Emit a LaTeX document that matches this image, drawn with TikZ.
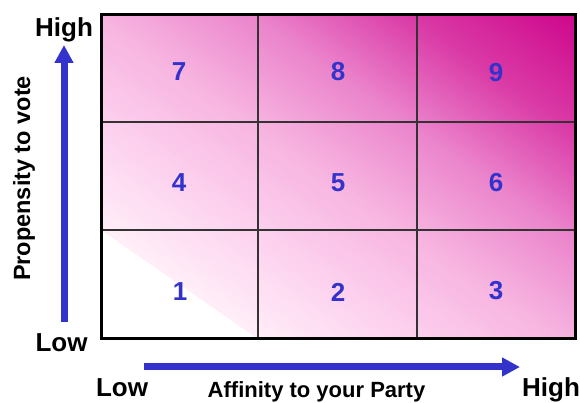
\documentclass[tikz,border=0pt]{standalone}
\usepackage{fontspec}
\setmainfont{Liberation Sans}
\usetikzlibrary{arrows.meta}
\definecolor{axblue}{HTML}{3333CC}
\definecolor{g0}{HTML}{FFEEF8}
\definecolor{ga}{HTML}{FDD2EF}
\definecolor{gb}{HTML}{F7B4E0}
\definecolor{gc}{HTML}{EB84CC}
\definecolor{gd}{HTML}{DA3AA6}
\definecolor{ge}{HTML}{CC0088}
\tikzset{
  num/.style={text=axblue, font=\fontsize{26}{26}\selectfont\bfseries, inner sep=0pt, anchor=center},
  axlabel/.style={font=\fontsize{26}{26}\selectfont\bfseries, inner sep=0pt, anchor=base},
  axtitle/.style={font=\fontsize{22}{22}\selectfont\bfseries, inner sep=0pt, anchor=base},
  axarrow/.style={draw=axblue, line width=7pt, -{Triangle[length=18pt,width=18pt]}},
  thin grid/.style={draw=black!80, line width=1.2pt},
  outer/.style={draw=black, line width=3pt}
}
\begin{document}
\begin{tikzpicture}[x=1pt,y=1pt]
\useasboundingbox (0,0) rectangle (580,403);
% gradient fill, drawn as thin bands across the gradient direction
\begin{scope}
  \clip (101,64) rectangle (575,388);
  \begin{scope}[shift={(101,173)}, rotate=55.23]
    \fill[white] (-120,-700) rectangle (0.5,700);
    \foreach \sa/\sb/\ca/\cb in {0/85/g0/ga, 85/175/ga/gb, 175/263/gb/gc, 263/352/gc/gd, 352/460/gd/ge} {
      \foreach \k in {0,...,29} {
        \pgfmathsetmacro\xa{\sa+(\sb-\sa)*\k/30}
        \pgfmathsetmacro\xb{\sa+(\sb-\sa)*(\k+1)/30+0.8}
        \pgfmathsetmacro\pc{100-(\k+0.5)*100/30}
        \fill[\ca!\pc!\cb] (\xa,-700) rectangle (\xb,700);
      }
    }
  \end{scope}
\end{scope}
% grid
\draw[thin grid] (258,64) -- (258,388);
\draw[thin grid] (417,64) -- (417,388);
\draw[thin grid] (101,281) -- (575,281);
\draw[thin grid] (101,173) -- (575,173);
\draw[outer] (101,64) rectangle (575,388);
% numbers
\node[num] (n7) at (179,331) {7};
\node[num] (n8) at (338,331) {8};
\node[num] (n9) at (496,330) {9};
\node[num] (n4) at (179,220) {4};
\node[num] (n5) at (338,220) {5};
\node[num] (n6) at (496,220) {6};
\node[num] (n1) at (180,111) {1};
\node[num] (n2) at (338,111) {2};
\node[num] (n3) at (496,112) {3};
% axis labels
\node[axlabel] (yhigh) at (64,366) {High};
\node[axlabel] (ylow) at (61.5,51) {Low};
\node[axlabel] (xlow) at (122,6) {Low};
\node[axlabel] (xhigh) at (551,6) {High};
\node[axtitle] (xtitle) at (316.5,5) {Affinity to your Party};
\node[axtitle, font=\fontsize{23.5}{23.5}\selectfont\bfseries, rotate=90] (ytitle) at (30,224.5) {Propensity to vote};
% arrows
\coordinate (ys) at (64,81);
\coordinate (ye) at (64,358);
\coordinate (xs) at (144,36);
\coordinate (xe) at (520,36);
\draw[axarrow] (ys) -- (ye);
\draw[axarrow] (xs) -- (xe);
\end{tikzpicture}
\end{document}
